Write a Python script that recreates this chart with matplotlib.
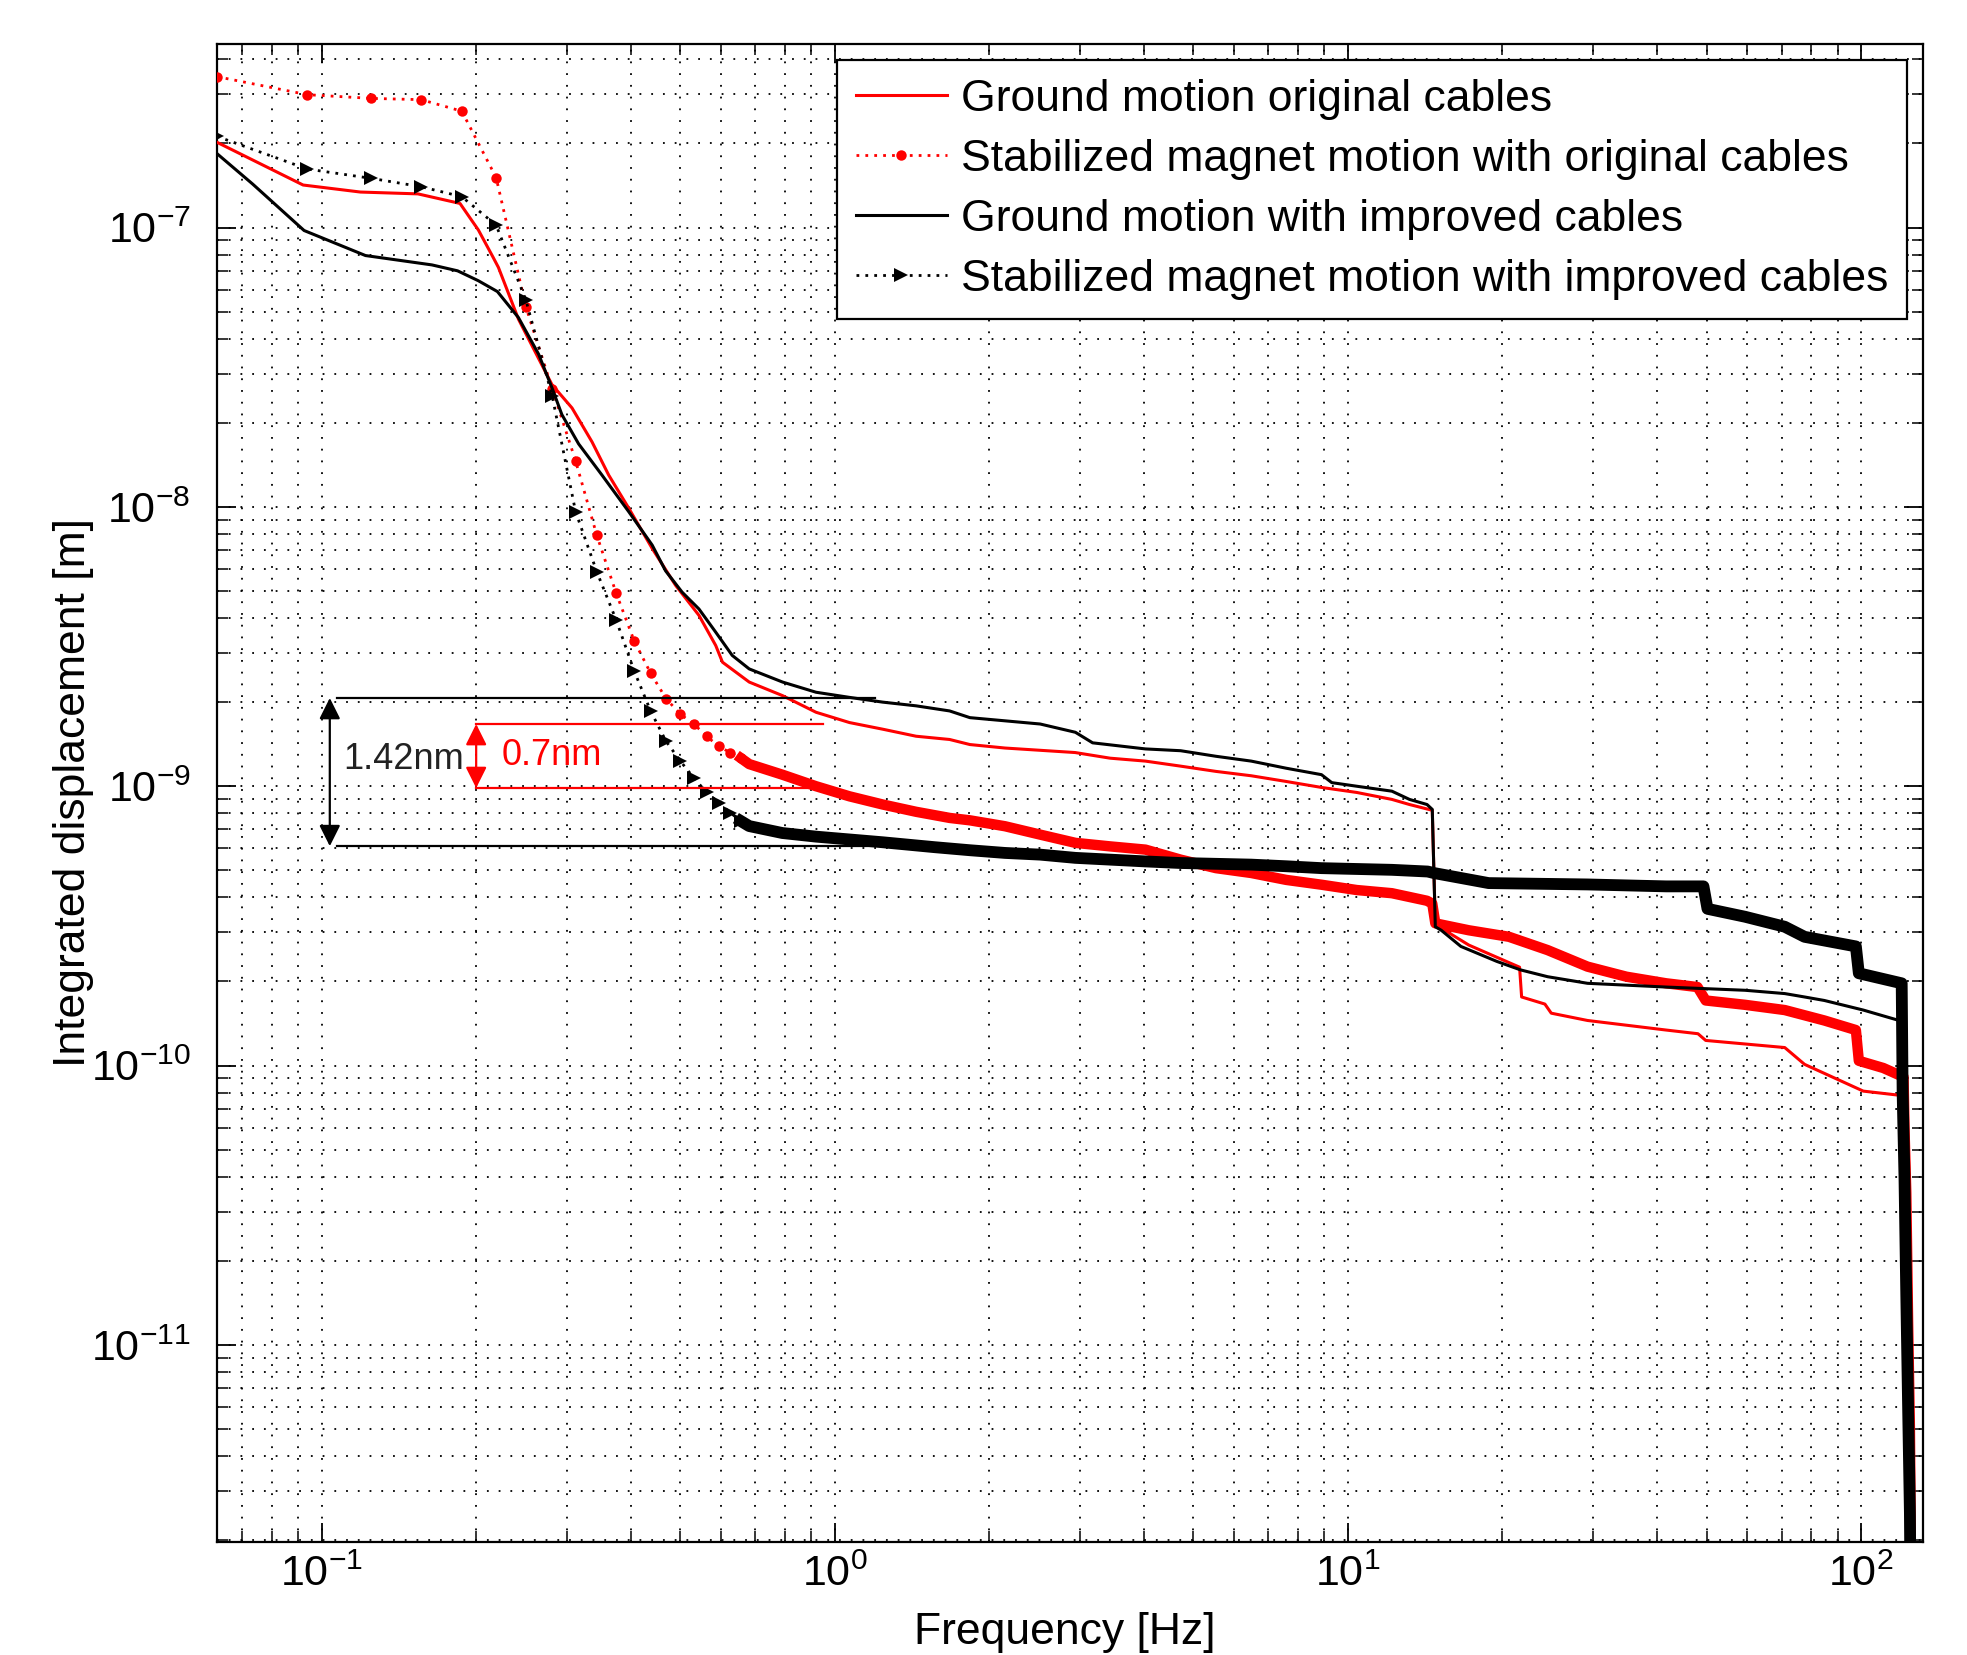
import matplotlib
matplotlib.use('Agg')
import matplotlib.pyplot as plt
import numpy as np

plt.rcParams['font.family'] = ['Liberation Sans', 'DejaVu Sans']
plt.rcParams['mathtext.fontset'] = 'custom'
plt.rcParams['mathtext.rm'] = 'Liberation Sans'
plt.rcParams['mathtext.it'] = 'Liberation Sans:italic'
plt.rcParams['mathtext.bf'] = 'Liberation Sans:bold'
plt.rcParams['mathtext.default'] = 'regular'
plt.rcParams['axes.unicode_minus'] = False

# ---------------- data ----------------
labels = ['Ground motion original cables',
          'Stabilized magnet motion with original cables',
          'Ground motion with improved cables',
          'Stabilized magnet motion with improved cables']

gm_orig_f = [0.0625, 0.092, 0.119, 0.154, 0.186, 0.202, 0.216, 0.221, 0.2418, 0.281,
             0.3075, 0.3363, 0.3625, 0.3968, 0.4406, 0.4894, 0.5435, 0.586, 0.604, 0.681,
             0.791, 0.919, 1.068, 1.24, 1.44, 1.674, 1.833, 2.146, 2.94, 3.44,
             4.03, 4.72, 5.53, 6.48, 7.58, 8.88, 10.4, 12.18, 13.18, 14.6,
             14.8, 17.2, 21.6, 21.8, 24.2, 24.9, 29.3, 41.7, 48.1, 49.8,
             71.0, 77.6, 101.0, 120.8, 122.0, 123.0, 124.0, 125.0]
gm_orig_d = [2.02e-7, 1.42e-7, 1.34e-7, 1.32e-7, 1.22e-7, 9.8e-8, 7.8e-8, 7.2e-8, 4.7e-8, 2.74e-8,
             2.26e-8, 1.71e-8, 1.30e-8, 9.88e-9, 7.1e-9, 5.24e-9, 4.09e-9, 3.19e-9, 2.78e-9, 2.36e-9,
             2.11e-9, 1.84e-9, 1.69e-9, 1.60e-9, 1.51e-9, 1.47e-9, 1.41e-9, 1.37e-9, 1.32e-9, 1.26e-9,
             1.23e-9, 1.18e-9, 1.13e-9, 1.09e-9, 1.04e-9, 9.9e-10, 9.5e-10, 8.97e-10, 8.6e-10, 8.2e-10,
             3.2e-10, 2.7e-10, 2.25e-10, 1.76e-10, 1.66e-10, 1.54e-10, 1.45e-10, 1.34e-10, 1.30e-10, 1.23e-10,
             1.16e-10, 1.01e-10, 8.1e-11, 7.8e-11, 5.0e-11, 2.0e-11, 6.0e-12, 1.5e-12]

stab_orig_f = [0.0625, 0.09375, 0.125, 0.15625, 0.1875, 0.21875, 0.25, 0.28125, 0.3125, 0.34375,
               0.375, 0.40625, 0.4375, 0.46875, 0.5, 0.53125, 0.5625, 0.59375, 0.625, 0.65625,
               0.681, 0.79, 0.919, 1.068, 1.24, 1.44, 1.674, 1.833, 2.146, 2.513,
               2.943, 3.44, 4.03, 4.72, 5.53, 6.48, 7.58, 8.88, 10.4, 12.18,
               14.26, 14.6, 14.8, 17.2, 20.6, 24.5, 29.3, 34.9, 41.7, 48.0,
               49.8, 59.4, 71.0, 84.8, 97.7, 99.0, 110.5, 121.0, 121.5, 122.5,
               123.5, 124.5, 125.0]
stab_orig_d = [3.47e-7, 2.99e-7, 2.90e-7, 2.87e-7, 2.61e-7, 1.51e-7, 5.2e-8, 2.65e-8, 1.46e-8, 7.9e-9,
               4.9e-9, 3.32e-9, 2.54e-9, 2.06e-9, 1.81e-9, 1.67e-9, 1.51e-9, 1.39e-9, 1.32e-9, 1.26e-9,
               1.20e-9, 1.10e-9, 1.0e-9, 9.2e-10, 8.6e-10, 8.1e-10, 7.7e-10, 7.55e-10, 7.19e-10, 6.71e-10,
               6.27e-10, 6.09e-10, 5.93e-10, 5.46e-10, 5.09e-10, 4.89e-10, 4.62e-10, 4.44e-10, 4.25e-10, 4.14e-10,
               3.89e-10, 3.8e-10, 3.23e-10, 3.05e-10, 2.89e-10, 2.59e-10, 2.26e-10, 2.08e-10, 1.97e-10, 1.91e-10,
               1.71e-10, 1.65e-10, 1.58e-10, 1.45e-10, 1.34e-10, 1.04e-10, 9.8e-11, 9.1e-11, 6.0e-11, 3.5e-11,
               1.2e-11, 5.0e-12, 2.0e-12]

gm_impr_f = [0.0625, 0.0734, 0.0924, 0.1217, 0.164, 0.184, 0.202, 0.22, 0.2418, 0.2647,
             0.281, 0.2938, 0.3168, 0.3517, 0.3968, 0.4406, 0.468, 0.504, 0.5435, 0.586,
             0.631, 0.681, 0.791, 0.919, 1.068, 1.24, 1.44, 1.674, 1.833, 2.513,
             2.943, 3.18, 4.03, 4.72, 5.53, 6.48, 7.58, 8.88, 9.3, 10.4,
             12.18, 13.18, 14.26, 14.6, 14.8, 15.2, 16.6, 19.5, 21.7, 24.5,
             29.3, 41.7, 59.4, 71.0, 77.6, 84.8, 101.0, 118.6, 120.5, 121.0,
             122.5, 124.0, 125.0]
gm_impr_d = [1.84e-7, 1.43e-7, 9.76e-8, 7.94e-8, 7.35e-8, 7.0e-8, 6.45e-8, 5.9e-8, 4.76e-8, 3.52e-8,
             2.67e-8, 2.14e-8, 1.68e-8, 1.30e-8, 9.6e-9, 7.3e-9, 5.9e-9, 4.95e-9, 4.31e-9, 3.56e-9,
             2.94e-9, 2.63e-9, 2.36e-9, 2.17e-9, 2.08e-9, 2.0e-9, 1.94e-9, 1.86e-9, 1.76e-9, 1.67e-9,
             1.56e-9, 1.43e-9, 1.36e-9, 1.34e-9, 1.28e-9, 1.23e-9, 1.16e-9, 1.10e-9, 1.03e-9, 1.0e-9,
             9.6e-10, 8.97e-10, 8.6e-10, 8.26e-10, 3.14e-10, 3.05e-10, 2.67e-10, 2.36e-10, 2.20e-10, 2.08e-10,
             1.97e-10, 1.91e-10, 1.86e-10, 1.81e-10, 1.76e-10, 1.71e-10, 1.58e-10, 1.45e-10, 1.40e-10, 5.0e-11,
             1.0e-11, 2.5e-12, 1.0e-12]

stab_impr_f = [0.0625, 0.09375, 0.125, 0.15625, 0.1875, 0.21875, 0.25, 0.28125, 0.3125, 0.34375,
               0.375, 0.40625, 0.4375, 0.46875, 0.5, 0.53125, 0.5625, 0.59375, 0.625, 0.65625,
               0.681, 0.79, 0.919, 1.24, 1.565, 1.833, 2.146, 2.513, 2.943, 3.44,
               4.03, 4.72, 6.48, 7.58, 8.88, 12.18, 14.3, 14.7, 18.8, 29.3,
               41.7, 49.3, 50.2, 59.4, 71.0, 77.6, 97.7, 99.0, 120.0, 120.5,
               121.5, 122.5, 123.5, 124.5, 125.0]
stab_impr_d = [2.12e-7, 1.62e-7, 1.50e-7, 1.40e-7, 1.29e-7, 1.02e-7, 5.5e-8, 2.5e-8, 9.6e-9, 5.85e-9,
               3.93e-9, 2.59e-9, 1.86e-9, 1.45e-9, 1.23e-9, 1.07e-9, 9.5e-10, 8.73e-10, 8.05e-10, 7.5e-10,
               7.2e-10, 6.8e-10, 6.6e-10, 6.3e-10, 6.05e-10, 5.9e-10, 5.77e-10, 5.69e-10, 5.54e-10, 5.46e-10,
               5.38e-10, 5.31e-10, 5.24e-10, 5.17e-10, 5.09e-10, 5.02e-10, 4.95e-10, 4.89e-10, 4.5e-10, 4.45e-10,
               4.38e-10, 4.38e-10, 3.64e-10, 3.41e-10, 3.14e-10, 2.89e-10, 2.67e-10, 2.14e-10, 1.97e-10, 8.0e-11,
               4.0e-11, 1.5e-11, 6.0e-12, 2.5e-12, 1.0e-12]

# annotation levels
black_levels = [2.07e-9, 6.1e-10]
black_span = [0.107, 1.2]
black_arrow_f = 0.1037
black_text = '1.42nm'
black_text_pos = (0.110, 1.245e-9)
red_levels = [1.67e-9, 9.85e-10]
red_span = [0.2, 0.95]
red_arrow_f = 0.2
red_text = '0.7nm'
red_text_pos = (0.2245, 1.29e-9)

xlim = (0.0625, 132)
ylim = (1.97e-12, 4.54e-7)

RED = '#ff0000'
BLK = '#000000'
band_start = 0.65

# ---------------- figure ----------------
fig = plt.figure(figsize=(19.67, 16.55), dpi=100)
ax = fig.add_axes([0.1103, 0.0683, 0.8673, 0.9051])
ax.set_xscale('log')
ax.set_yscale('log')

def split(f, d):
    f = np.asarray(f); d = np.asarray(d)
    lo = f <= 0.66
    hi = f >= band_start
    return f[lo], d[lo], f[hi], d[hi]

h1, = ax.plot(gm_orig_f, gm_orig_d, color=RED, lw=2.2, zorder=3, label=labels[0])

f_lo, d_lo, f_hi, d_hi = split(stab_orig_f, stab_orig_d)
h2, = ax.plot(f_lo, d_lo, color=RED, lw=2.0, linestyle=(0, (1, 2.2)), marker='o',
              markersize=7.5, markeredgewidth=0, zorder=4, label=labels[1])
ax.plot(f_hi, d_hi, color=RED, lw=7.5, solid_joinstyle='round', zorder=4)

h3, = ax.plot(gm_impr_f, gm_impr_d, color=BLK, lw=2.2, zorder=5, label=labels[2])

f_lo, d_lo, f_hi, d_hi = split(stab_impr_f, stab_impr_d)
h4, = ax.plot(f_lo, d_lo, color=BLK, lw=2.0, linestyle=(0, (1, 2.2)), marker='>',
              markersize=9.5, markeredgewidth=0, zorder=6, label=labels[3])
ax.plot(f_hi, d_hi, color=BLK, lw=8.5, solid_joinstyle='round', zorder=6)

# annotations
for lev in black_levels:
    ax.plot(black_span, [lev, lev], color=BLK, lw=1.6, zorder=7)
for lev in red_levels:
    ax.plot(red_span, [lev, lev], color=RED, lw=1.6, zorder=7)
ax.annotate('', xy=(black_arrow_f, black_levels[0]), xytext=(black_arrow_f, black_levels[1]),
            arrowprops=dict(arrowstyle='<|-|>', color=BLK, lw=1.6, mutation_scale=32,
                            shrinkA=0, shrinkB=0), zorder=8)
ax.annotate('', xy=(red_arrow_f, red_levels[0]), xytext=(red_arrow_f, red_levels[1]),
            arrowprops=dict(arrowstyle='<|-|>', color=RED, lw=1.6, mutation_scale=32,
                            shrinkA=0, shrinkB=0), zorder=8)
ax.text(black_text_pos[0], black_text_pos[1], black_text, color='#222222', fontsize=26,
        ha='left', va='center', zorder=8)
ax.text(red_text_pos[0], red_text_pos[1], red_text, color=RED, fontsize=26,
        ha='left', va='center', zorder=8)

ax.set_xlim(*xlim)
ax.set_ylim(*ylim)

ax.set_axisbelow(True)
ax.grid(True, which='both', color='k', linestyle=(0, (1, 5.5)), lw=1.3)

ax.tick_params(which='both', direction='in', top=True, right=True, colors='k')
ax.tick_params(which='major', length=14, width=1.3, labelsize=31)
ax.tick_params(axis='x', which='major', pad=9)
ax.tick_params(axis='y', which='major', pad=19)
ax.tick_params(which='minor', length=8, width=1.1)
for s in ax.spines.values():
    s.set_linewidth(1.6)

ax.set_xlabel('Frequency [Hz]', fontsize=32)
ax.set_ylabel('Integrated displacement [m]', fontsize=32)
ax.xaxis.set_label_coords(0.497, -0.047)
ax.yaxis.set_label_coords(-0.072, 0.5)

leg = ax.legend(handles=[h1, h2, h3, h4], loc='upper right', bbox_to_anchor=(0.9906, 0.9893),
                borderaxespad=0, fontsize=32, frameon=True, fancybox=False, framealpha=1,
                edgecolor='k', handlelength=2.05, handletextpad=0.32, labelspacing=0.43,
                borderpad=0.42, numpoints=1)
leg.get_frame().set_linewidth(1.6)
leg.set_zorder(20)

fig.savefig('out.png', dpi=100)
